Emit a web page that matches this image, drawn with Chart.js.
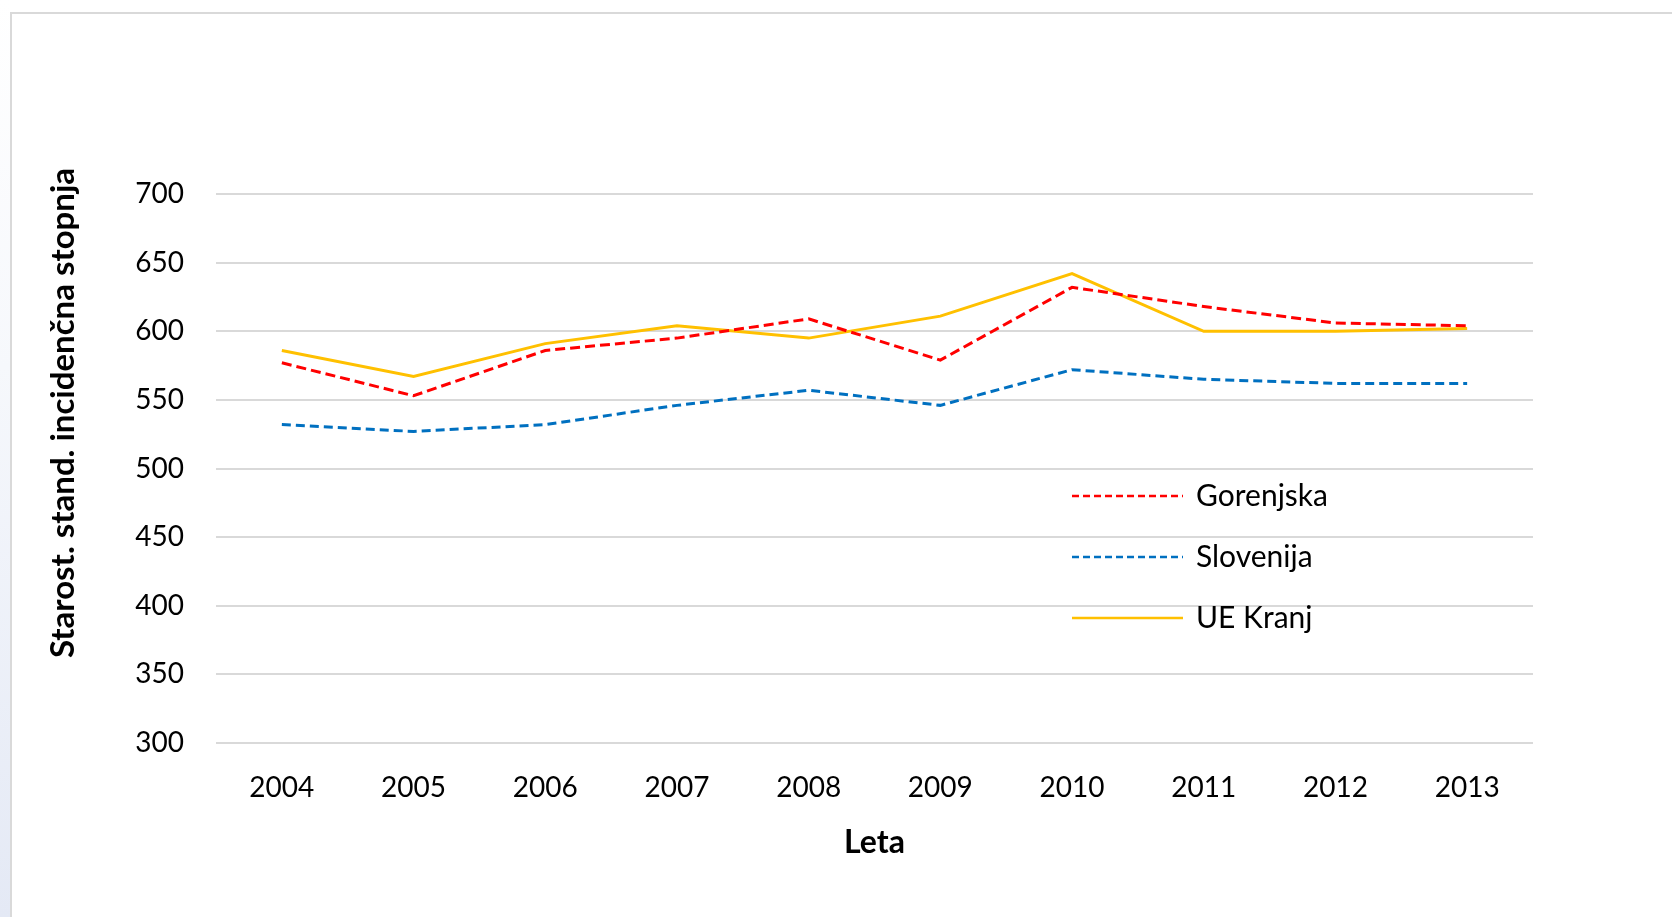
<!DOCTYPE html>
<html>
<head>
    <title>Starost. stand. incidenčna stopnja</title>
    <script src="https://cdn.jsdelivr.net/npm/chart.js"></script>
    <style>
        html, body {
            margin: 0;
            padding: 0;
            background: white;
            overflow: hidden;
        }
        .frame {
            position: absolute;
            left: 10px;
            top: 12px;
            width: 1700px;
            height: 950px;
            border-left: 2px solid #d9d9d9;
            border-top: 2px solid #d9d9d9;
        }
        .edge {
            position: absolute;
            left: 0;
            top: 0;
            width: 10px;
            height: 917px;
            background: linear-gradient(to bottom, #ffffff 0%, #f6f8fc 40%, #e4e9f5 100%);
        }
        .chart-container {
            position: absolute;
            left: 0;
            top: 0;
            width: 1672px;
            height: 917px;
        }
    </style>
</head>
<body>
    <div class="edge"></div>
    <div class="frame"></div>
    <div class="chart-container">
        <canvas id="incChart"></canvas>
    </div>

    <script>
        const years = ['2004', '2005', '2006', '2007', '2008', '2009', '2010', '2011', '2012', '2013'];
        const gorenjska = [577, 553, 586, 595, 609, 579, 632, 618, 606, 604];
        const slovenija = [532, 527, 532, 546, 557, 546, 572, 565, 562, 562];
        const ueKranj = [586, 567, 591, 604, 595, 611, 642, 600, 600, 602];
        const yTitle = 'Starost. stand. incidenčna stopnja';
        const xTitle = 'Leta';

        const FONT = 'Lato, "Open Sans", sans-serif';

        // y title and legend drawn by hand, like the Excel original
        const extras = {
            id: 'extras',
            afterDraw(chart) {
                const c = chart.ctx;
                c.save();
                c.fillStyle = '#000';
                c.font = 'bold 33px ' + FONT;
                c.textAlign = 'center';
                c.textBaseline = 'middle';
                c.translate(63, 413);
                c.rotate(-Math.PI / 2);
                c.fillText(yTitle, 0, 0);
                c.restore();

                const rows = [496, 557, 618];
                chart.data.datasets.forEach((ds, i) => {
                    const y = rows[i];
                    c.save();
                    c.strokeStyle = ds.borderColor;
                    c.lineWidth = 2.5;
                    c.setLineDash(ds.borderDash.length ? [7, 4] : []);
                    c.beginPath();
                    c.moveTo(1072, y);
                    c.lineTo(1183, y);
                    c.stroke();
                    c.setLineDash([]);
                    c.fillStyle = '#000';
                    c.font = '30px ' + FONT;
                    c.textAlign = 'left';
                    c.textBaseline = 'middle';
                    c.fillText(ds.label, 1196, y);
                    c.restore();
                });
            }
        };

        const ctx = document.getElementById('incChart').getContext('2d');
        const chart = new Chart(ctx, {
            type: 'line',
            data: {
                labels: years,
                datasets: [{
                    label: 'Gorenjska',
                    data: gorenjska,
                    borderColor: '#ff0000',
                    borderWidth: 3,
                    borderDash: [10, 5]
                }, {
                    label: 'Slovenija',
                    data: slovenija,
                    borderColor: '#0070c0',
                    borderWidth: 3,
                    borderDash: [9, 5]
                }, {
                    label: 'UE Kranj',
                    data: ueKranj,
                    borderColor: '#ffc000',
                    borderWidth: 3,
                    borderDash: []
                }]
            },
            options: {
                responsive: true,
                maintainAspectRatio: false,
                animation: false,
                layout: {
                    padding: { left: 0, right: 139, top: 194, bottom: 55 }
                },
                elements: {
                    point: { radius: 0 },
                    line: { tension: 0 }
                },
                plugins: {
                    legend: { display: false },
                    tooltip: { enabled: false }
                },
                scales: {
                    x: {
                        offset: true,
                        grid: { display: false, drawTicks: false },
                        border: { display: false },
                        ticks: {
                            color: '#000',
                            padding: 28,
                            font: { family: FONT, size: 28 }
                        },
                        title: {
                            display: true,
                            text: xTitle,
                            color: '#000',
                            padding: { top: 0, bottom: 0 },
                            font: { family: FONT, size: 32, weight: 'bold' }
                        },
                        afterFit(scale) { scale.height = 119; }
                    },
                    y: {
                        min: 300,
                        max: 700,
                        grid: { color: '#d9d9d9', lineWidth: 2, drawTicks: false },
                        border: { display: false },
                        ticks: {
                            stepSize: 50,
                            color: '#000',
                            padding: 32,
                            font: { family: FONT, size: 28 }
                        },
                        afterFit(scale) { scale.width = 216; }
                    }
                }
            },
            plugins: [extras]
        });
    </script>
</body>
</html>
